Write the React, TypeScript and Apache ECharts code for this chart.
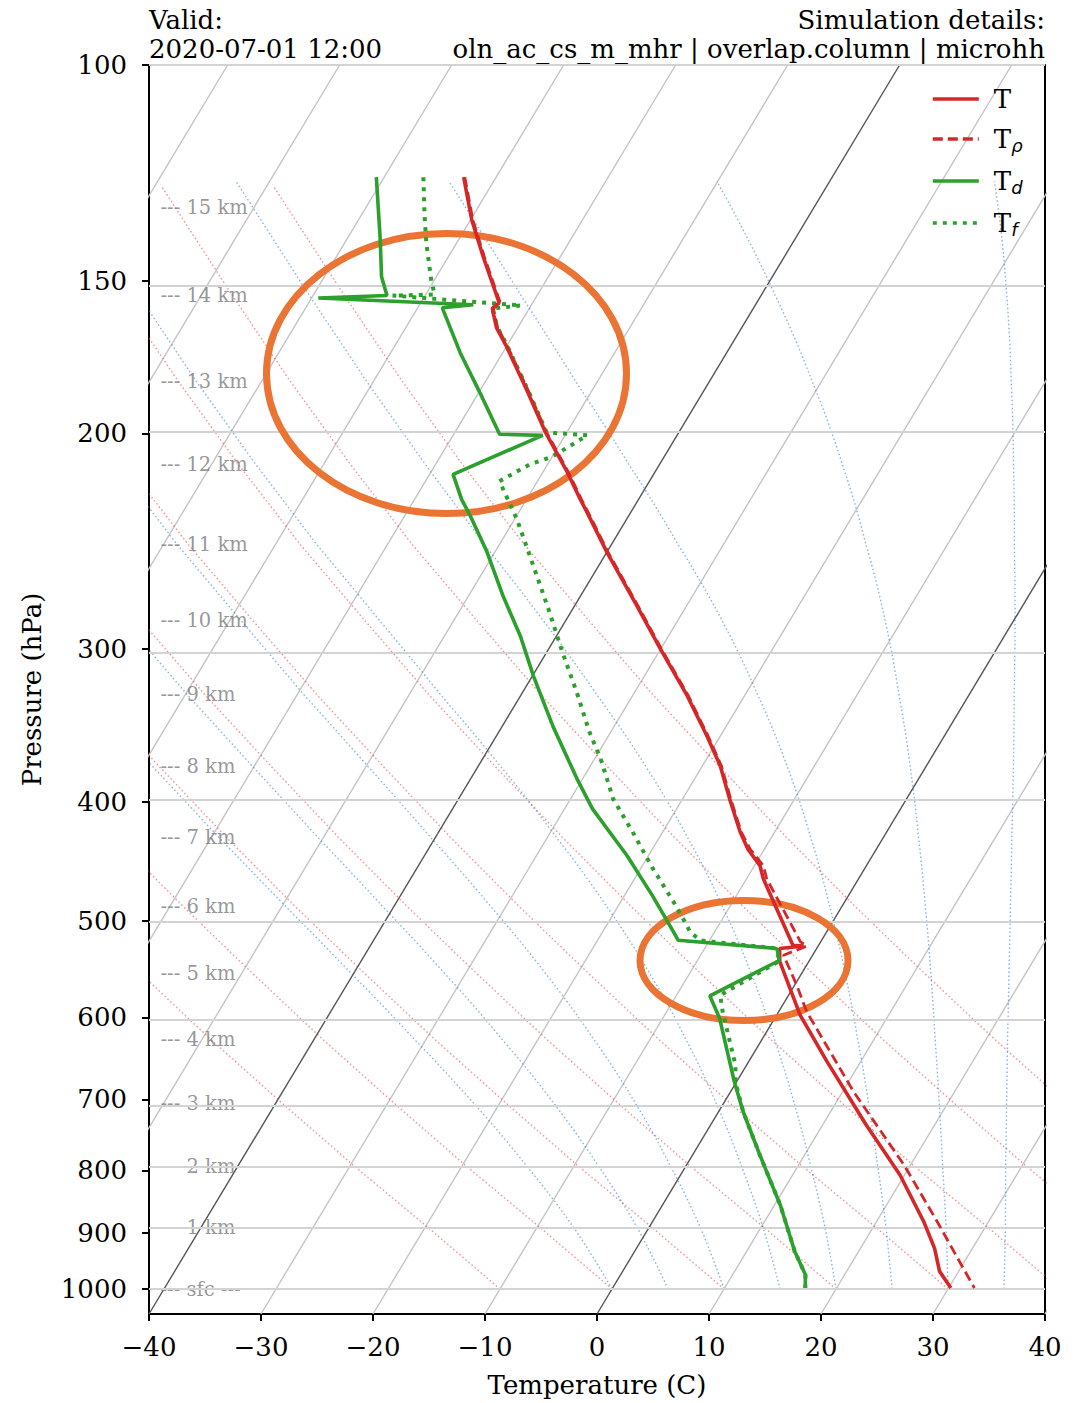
import React, { useEffect, useRef } from "react";
import * as echarts from "echarts";

// ---------------- data ----------------
const PRESSURE_TICKS = [100, 150, 200, 300, 400, 500, 600, 700, 800, 900, 1000];
const TEMP_MIN = -40;
const TEMP_MAX = 40;
const TEMP_STEP = 10;

// Temperature T
const T_P = [123.5, 133.8, 143.4, 156.4, 158.1, 163.9, 169.8, 184.1, 199.6, 215.2, 226.4, 232.0, 250.0, 276.8, 300.1, 327.7, 353.3, 373.8, 397.7, 423.1, 436.9, 451.0, 462.2, 523.7, 524.5, 527.0, 540.0, 597.3, 652.0, 734.5, 807.0, 880.6, 926.0, 967.3, 998.0];
const T_C = [-72.9, -69.9, -66.9, -63.0, -63.3, -61.9, -60.0, -55.9, -51.9, -47.8, -45.2, -43.9, -40.0, -34.4, -30.0, -25.1, -21.2, -18.4, -15.8, -13.1, -11.5, -9.5, -8.5, -2.3, -1.3, -3.3, -2.6, 2.1, 7.0, 13.9, 19.6, 24.2, 26.6, 28.3, 30.2];

// Density temperature T_rho
const TRHO_P = [123.5, 133.8, 143.4, 156.4, 158.1, 163.9, 169.8, 184.1, 199.6, 215.2, 226.4, 232.0, 250.0, 276.8, 300.1, 327.7, 353.3, 373.8, 397.7, 423.1, 436.9, 451.0, 462.2, 520.4, 524.5, 533.7, 564.7, 593.5, 690.1, 791.6, 880.6, 931.7, 998.0];
const TRHO_C = [-72.8, -69.8, -66.8, -62.9, -63.2, -61.8, -59.9, -55.8, -51.8, -47.7, -45.1, -43.8, -39.9, -34.3, -29.9, -25.0, -21.1, -18.3, -15.7, -13.0, -11.3, -9.2, -8.2, -1.8, -1.0, -2.6, 0.2, 2.5, 11.0, 19.4, 25.4, 28.5, 32.3];

// Dew point T_d
const TD_P = [123.5, 138.9, 148.9, 154.3, 155.0, 157.0, 157.9, 171.8, 185.2, 200.3, 200.7, 216.0, 226.4, 233.7, 250.0, 271.6, 292.9, 315.7, 346.7, 383.0, 405.3, 442.6, 477.1, 510.5, 518.9, 526.6, 527.5, 539.0, 576.0, 601.2, 677.1, 716.4, 777.0, 853.5, 931.7, 973.4, 998.0];
const TD_C = [-80.7, -77.0, -74.9, -73.4, -79.4, -65.2, -67.8, -63.8, -59.9, -55.9, -52.0, -57.9, -55.8, -54.1, -50.7, -46.9, -43.2, -39.9, -35.5, -30.5, -27.5, -21.9, -17.5, -13.7, -12.8, -3.9, -3.5, -2.7, -7.0, -4.9, -0.2, 2.2, 6.0, 10.5, 14.3, 16.5, 17.2];

// Frost point T_f
const TF_P = [123.5, 132.9, 139.8, 150.2, 154.0, 154.3, 157.2, 158.1, 163.9, 169.8, 184.1, 199.6, 200.7, 208.9, 212.0, 218.8, 223.6, 235.0, 256.7, 279.9, 301.8, 325.2, 350.7, 371.0, 397.7, 423.1, 453.5, 482.6, 504.8, 510.8, 519.1, 526.6, 539.0, 575.5, 593.5, 656.1, 677.1, 716.4, 777.0, 853.5, 931.7, 973.4, 998.0];
const TF_C = [-76.5, -74.3, -72.7, -70.2, -69.2, -72.9, -60.9, -63.3, -61.8, -59.9, -55.8, -51.8, -48.0, -50.0, -51.6, -53.4, -52.3, -49.8, -45.8, -41.9, -38.6, -35.2, -31.9, -29.2, -26.2, -22.7, -18.9, -15.3, -12.8, -12.2, -10.8, -3.8, -2.6, -6.1, -5.0, -1.0, -0.1, 2.2, 6.0, 10.5, 14.3, 16.5, 17.2];

// Height markers (km) and their pressure levels
const HEIGHT_KM = [0, 1, 2, 3, 4, 5, 6, 7, 8, 9, 10, 11, 12, 13, 14, 15];
const HEIGHT_P = [1000, 889.9, 793.6, 705.2, 625.4, 552.5, 487.0, 427.9, 374.5, 327.1, 284.1, 246.4, 212.0, 181.4, 154.3, 130.8];
const HEIGHT_LABELS = ["--- sfc ---", "--- 1 km", "--- 2 km", "--- 3 km", "--- 4 km", "--- 5 km", "--- 6 km", "--- 7 km", "--- 8 km", "--- 9 km", "--- 10 km", "--- 11 km", "--- 12 km", "--- 13 km", "--- 14 km", "--- 15 km"];

// Background reference lines
const ISOTHERMS_C = [-100, -90, -80, -70, -60, -50, -40, -30, -20, -10, 0, 10, 20, 30, 40];
const HIGHLIGHT_ISOTHERMS_C = [-40, 0];
const DRY_ADIABAT_T0 = [-10, 0, 10, 20, 30, 40, 50, 60];
const MOIST_ADIABAT_T0 = [0, 5, 10, 15, 20, 25, 30, 35];
const ADIABAT_TOP_KM = 15.3;
const DRY_LAPSE_K_PER_KM = 9.8;

// ---------------- geometry ----------------
const GRID_LEFT = 149;
const GRID_TOP = 65;
const GRID_W = 896;
const GRID_H = 1251;
const PX_PER_DECADE = 1226;
const L_TOP = 2; // log10(100 hPa)
const L_BOTTOM = L_TOP + GRID_H / PX_PER_DECADE;
const SKEW = (0.6 * PX_PER_DECADE) / (GRID_W / (TEMP_MAX - TEMP_MIN)); // degC per decade
const P_BOTTOM = Math.pow(10, L_BOTTOM);

const SERIF = "'DejaVu Serif', serif";
const RED = "#d62728";
const GREEN = "#2ca02c";

function skewPt(t: number, p: number): number[] {
  const l = Math.log10(p);
  return [t + SKEW * (L_BOTTOM - l), l];
}

function pressureAtHeight(z: number): number {
  const n = HEIGHT_KM.length;
  let i = 0;
  while (i < n - 2 && z > HEIGHT_KM[i + 1]) i++;
  const f = (z - HEIGHT_KM[i]) / (HEIGHT_KM[i + 1] - HEIGHT_KM[i]);
  const a = Math.log(HEIGHT_P[i]);
  const b = Math.log(HEIGHT_P[i + 1]);
  return Math.exp(a + f * (b - a));
}

function moistLapse(tk: number, p: number): number {
  const es = 6.112 * Math.exp((17.67 * (tk - 273.15)) / (tk - 29.65));
  const rs = (0.622 * es) / Math.max(p - es, 1e-3);
  const Lv = 2.501e6;
  const Rd = 287.04;
  const num = 9.81 * (1 + (Lv * rs) / (Rd * tk));
  const den = 1005.7 + (Lv * Lv * rs * 0.622) / (Rd * tk * tk);
  return (num / den) * 1000; // K per km
}

function dryLine(t0: number): number[][] {
  const pts: number[][] = [];
  for (let z = 0; z <= ADIABAT_TOP_KM + 1e-9; z += 0.25) {
    pts.push(skewPt(t0 - DRY_LAPSE_K_PER_KM * z, pressureAtHeight(z)));
  }
  return pts;
}

function moistLine(t0: number): number[][] {
  const pts: number[][] = [];
  const dz = 0.05;
  let tk = t0 + 273.15;
  for (let z = 0; z <= ADIABAT_TOP_KM + 1e-9; z += dz) {
    const p = pressureAtHeight(z);
    pts.push(skewPt(tk - 273.15, p));
    const k1 = moistLapse(tk, p);
    const k2 = moistLapse(tk - (k1 * dz) / 2, pressureAtHeight(z + dz / 2));
    tk -= k2 * dz;
  }
  return pts;
}

function profile(ps: number[], ts: number[]): number[][] {
  return ps.map((p, i) => skewPt(ts[i], p));
}

function buildOption(): any {
  const series: any[] = [];

  // isotherms (+ horizontal pressure grid as markLine)
  ISOTHERMS_C.forEach((t, i) => {
    const dark = HIGHLIGHT_ISOTHERMS_C.indexOf(t) >= 0;
    const s: any = {
      type: "line",
      data: [skewPt(t, P_BOTTOM), skewPt(t, 100)],
      symbol: "none",
      silent: true,
      clip: true,
      z: dark ? 3 : 2,
      lineStyle: { color: dark ? "#555555" : "#c4c4c4", width: 1.4 },
    };
    if (i === 0) {
      s.markLine = {
        silent: true,
        symbol: ["none", "none"],
        label: { show: false },
        lineStyle: { color: "#d3d3d3", width: 2, type: "solid" },
        data: PRESSURE_TICKS.map((p) => ({ yAxis: Math.log10(p) })),
      };
    }
    series.push(s);
  });

  DRY_ADIABAT_T0.forEach((t0) => {
    series.push({
      type: "line",
      data: dryLine(t0),
      symbol: "none",
      silent: true,
      clip: true,
      z: 2,
      lineStyle: { color: "rgba(235,70,70,0.6)", width: 1.4, type: [1.5, 2.5] },
    });
  });

  MOIST_ADIABAT_T0.forEach((t0) => {
    series.push({
      type: "line",
      data: moistLine(t0),
      symbol: "none",
      silent: true,
      clip: true,
      z: 2,
      lineStyle: { color: "rgba(50,130,205,0.6)", width: 1.4, type: [1.5, 2.5] },
    });
  });

  // height labels
  series.push({
    type: "scatter",
    silent: true,
    symbolSize: 1,
    itemStyle: { color: "rgba(0,0,0,0)" },
    z: 4,
    data: HEIGHT_KM.map((km, i) => ({
      name: HEIGHT_LABELS[i],
      value: [TEMP_MIN + (160 - GRID_LEFT) / (GRID_W / (TEMP_MAX - TEMP_MIN)), Math.log10(HEIGHT_P[i])],
    })),
    label: {
      show: true,
      position: "right",
      distance: 0,
      formatter: "{b}",
      color: "#7c7c7c",
      fontFamily: SERIF,
      fontSize: 19.5,
    },
  });

  // profiles
  series.push({
    name: "T",
    type: "line",
    data: profile(T_P, T_C),
    symbol: "none",
    z: 12,
    lineStyle: { color: RED, width: 3.6 },
    itemStyle: { color: RED },
  });
  series.push({
    name: "Trho",
    type: "line",
    data: profile(TRHO_P, TRHO_C),
    symbol: "none",
    z: 11,
    lineStyle: { color: RED, width: 2.8, type: [10, 5] },
    itemStyle: { color: RED },
  });
  series.push({
    name: "Td",
    type: "line",
    data: profile(TD_P, TD_C),
    symbol: "none",
    z: 12,
    lineStyle: { color: GREEN, width: 3.6 },
    itemStyle: { color: GREEN },
  });
  series.push({
    name: "Tf",
    type: "line",
    data: profile(TF_P, TF_C),
    symbol: "none",
    z: 11,
    lineStyle: { color: GREEN, width: 4, type: [4, 6] },
    itemStyle: { color: GREEN },
  });

  const subs: Record<string, string> = { T: "", Trho: "ρ", Td: "d", Tf: "f" };

  return {
    animation: false,
    backgroundColor: "#ffffff",
    grid: { left: GRID_LEFT, top: GRID_TOP, width: GRID_W, height: GRID_H, containLabel: false },
    xAxis: {
      type: "value",
      min: TEMP_MIN,
      max: TEMP_MAX,
      interval: TEMP_STEP,
      name: "Temperature (C)",
      nameLocation: "middle",
      nameGap: 58,
      nameTextStyle: { fontFamily: SERIF, fontSize: 26, color: "#000" },
      axisLine: { show: true, onZero: false, lineStyle: { color: "#000", width: 2 } },
      axisTick: { show: true, inside: false, length: 7, lineStyle: { color: "#000", width: 2 } },
      axisLabel: {
        margin: 20,
        fontFamily: SERIF,
        fontSize: 26,
        color: "#000",
        formatter: (v: number) => (v < 0 ? "\u2212" + Math.abs(v) : String(v)),
      },
      splitLine: { show: false },
    },
    yAxis: [
      {
        type: "value",
        inverse: true,
        min: L_TOP,
        max: L_BOTTOM,
        name: "Pressure (hPa)",
        nameLocation: "middle",
        nameGap: 104,
        nameTextStyle: { fontFamily: SERIF, fontSize: 26, color: "#000" },
        axisLine: { show: true, onZero: false, lineStyle: { color: "#000", width: 2 } },
        axisTick: {
          show: true,
          length: 7,
          lineStyle: { color: "#000", width: 2 },
          customValues: PRESSURE_TICKS.map((p) => Math.log10(p)),
        },
        axisLabel: {
          margin: 22,
          fontFamily: SERIF,
          fontSize: 26,
          color: "#000",
          customValues: PRESSURE_TICKS.map((p) => Math.log10(p)),
          formatter: (v: number) => String(Math.round(Math.pow(10, v))),
        },
        splitLine: { show: false },
      },
      {
        type: "value",
        inverse: true,
        min: L_TOP,
        max: L_BOTTOM,
        position: "right",
        axisLine: { show: true, onZero: false, lineStyle: { color: "#000", width: 2 } },
        axisTick: { show: false },
        axisLabel: { show: false },
        splitLine: { show: false },
      },
    ],
    legend: {
      data: ["T", "Trho", "Td", "Tf"],
      orient: "vertical",
      left: 926,
      top: 81,
      itemWidth: 46,
      itemHeight: 14,
      itemGap: 14,
      selectedMode: false,
      itemStyle: { opacity: 0, borderWidth: 0 },
      lineStyle: { width: 3.6 },
      formatter: (name: string) => (subs[name] ? `{m|T}{s|${subs[name]}}` : "{m|T}"),
      textStyle: {
        fontFamily: SERIF,
        fontSize: 26,
        color: "#000",
        padding: [0, 0, 0, 10],
        rich: {
          m: { fontFamily: SERIF, fontSize: 26, lineHeight: 30, color: "#000" },
          s: {
            fontFamily: "'DejaVu Sans', sans-serif",
            fontStyle: "italic",
            fontSize: 18,
            lineHeight: 12,
            verticalAlign: "bottom",
            color: "#000",
          },
        },
      },
    },
    graphic: [
      {
        type: "ellipse",
        z: 8,
        silent: true,
        shape: { cx: 446.5, cy: 373.5, rx: 180, ry: 140 },
        style: { fill: "none", stroke: "#ea7433", lineWidth: 7 },
      },
      {
        type: "ellipse",
        z: 8,
        silent: true,
        shape: { cx: 744, cy: 960.5, rx: 104, ry: 60 },
        style: { fill: "none", stroke: "#ea7433", lineWidth: 7 },
      },
      {
        type: "text",
        z: 20,
        x: 149,
        y: 33,
        style: { text: "Valid:", font: `26px ${SERIF}`, fill: "#000", align: "left", verticalAlign: "bottom" },
      },
      {
        type: "text",
        z: 20,
        x: 149,
        y: 62,
        style: { text: "2020-07-01 12:00", font: `26px ${SERIF}`, fill: "#000", align: "left", verticalAlign: "bottom" },
      },
      {
        type: "text",
        z: 20,
        x: 1045,
        y: 33,
        style: { text: "Simulation details:", font: `26px ${SERIF}`, fill: "#000", align: "right", verticalAlign: "bottom" },
      },
      {
        type: "text",
        z: 20,
        x: 1045,
        y: 62,
        style: {
          text: "oln_ac_cs_m_mhr | overlap.column | microhh",
          font: `26px ${SERIF}`,
          fill: "#000",
          align: "right",
          verticalAlign: "bottom",
        },
      },
    ],
    series,
  };
}

export default function App() {
  const ref = useRef<HTMLDivElement>(null);
  useEffect(() => {
    if (!ref.current) return;
    const chart = echarts.init(ref.current, null, { renderer: "svg" });
    chart.setOption(buildOption());
    return () => chart.dispose();
  }, []);
  return (
    <div
      ref={ref}
      style={{ position: "fixed", left: 0, top: 0, width: 1081, height: 1403, background: "#fff" }}
    />
  );
}
